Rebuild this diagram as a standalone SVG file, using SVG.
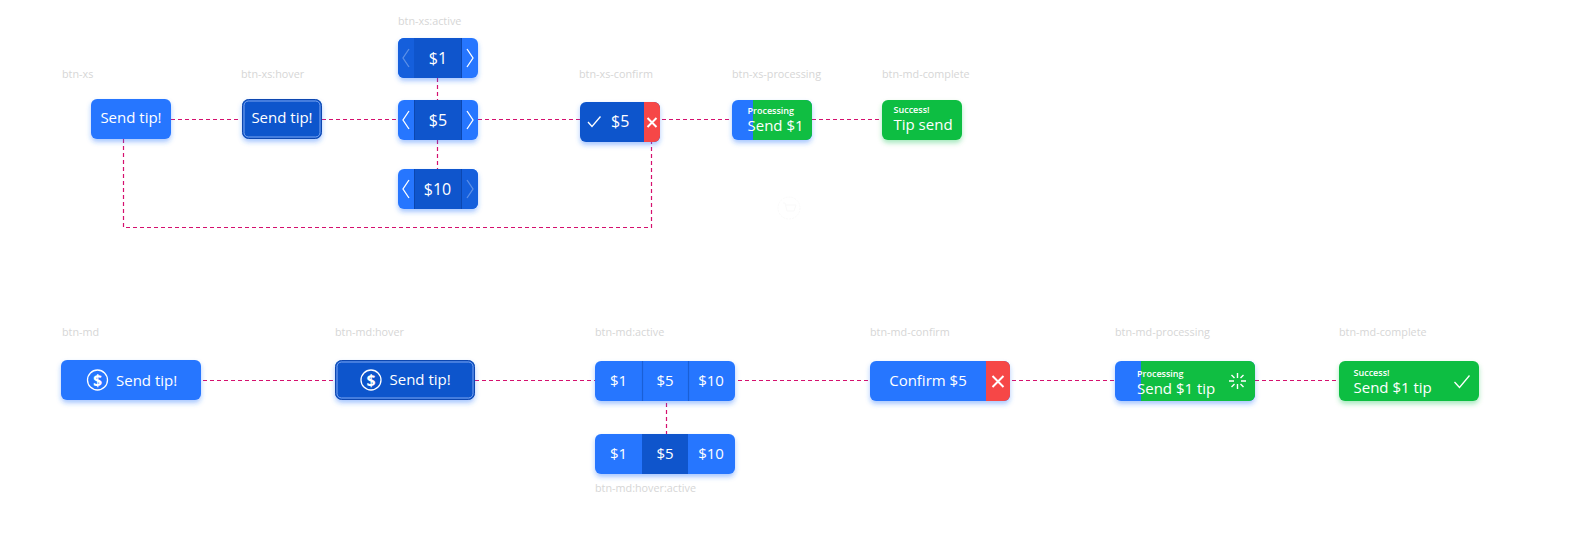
<svg xmlns="http://www.w3.org/2000/svg" width="1591" height="537" viewBox="0 0 1591 537">
<style>
text{font-family:"Open Sans","Noto Sans","Liberation Sans",sans-serif;fill:#fff}
.lbl{font-size:10.800px;fill:#d6d6d6}
.t14{font-size:15px}.t15{font-size:15px}.t16{font-size:16px}.t9{font-size:9px;font-weight:600}
.m{text-anchor:middle}
.blue{fill:#2776ff}.dark{fill:#0f55cc}.mid{fill:#155fdc}.green{fill:#10be42}.red{fill:#f64747}
.sh{filter:url(#s)}.shg{filter:url(#g)}
.con{fill:none;stroke:#d5106e;stroke-width:1.2;stroke-dasharray:4 3}
.ic{fill:none;stroke:#fff;stroke-width:1.3}
.dim{opacity:.3}
.div{stroke:#1a5fd6;stroke-width:1.2}
</style>
<defs>
<filter id="s" x="-20%" y="-30%" width="140%" height="170%"><feDropShadow dx="0" dy="3" stdDeviation="2.5" flood-color="#2776ff" flood-opacity=".4"/></filter>
<filter id="g" x="-20%" y="-30%" width="140%" height="170%"><feDropShadow dx="0" dy="3" stdDeviation="2.5" flood-color="#10be42" flood-opacity=".35"/></filter>
<clipPath id="cx1"><rect x="398" y="38" width="80" height="40" rx="6"/></clipPath>
<clipPath id="cx3"><rect x="398" y="169" width="80" height="40" rx="6"/></clipPath>
<clipPath id="cc"><rect x="580" y="102" width="80" height="40" rx="6"/></clipPath>
<clipPath id="cp"><rect x="732" y="100" width="80" height="40" rx="6"/></clipPath>
<clipPath id="mc"><rect x="870" y="361" width="140" height="40" rx="6"/></clipPath>
<clipPath id="mp"><rect x="1115" y="361" width="140" height="40" rx="6"/></clipPath>
<g id="dollar"><circle r="10" class="ic"/><text y="6" class="t16 m" font-weight="700">$</text></g>
<path id="cl" class="ic" d="M5 -9 L-1 0 L5 9"/>
<path id="cr" class="ic" d="M-5 -9 L1 0 L-5 9"/>
</defs>

<g id="connectors">
<path class="con" d="M171 119.500H240M322 119.500H396M478 119.500H580M662 119.500H732M812 119.500H882"/>
<path class="con" d="M437.500 78V100M437.500 140V169"/>
<path class="con" d="M123.500 139V227.500H651.500V142"/>
<path class="con" d="M203 380.500H333M475 380.500H595M738 380.500H868M1012 380.500H1115M1255 380.500H1339"/>
<path class="con" d="M666.500 403V434"/>
</g>

<g id="btn-xs">
<text class="lbl" x="62" y="78">btn-xs</text>
<rect class="blue sh" x="91" y="99" width="80" height="40" rx="6"/>
<text class="t15 m" x="131" y="123">Send tip!</text>
</g>

<g id="btn-xs-hover">
<text class="lbl" x="241" y="78">btn-xs:hover</text>
<rect class="dark sh" x="242.500" y="99.500" width="79" height="39" rx="6" stroke="#0c47b0"/>
<rect x="244" y="101" width="76" height="36" rx="4.500" fill="none" stroke="#7ea6f0"/>
<text class="t15 m" x="282" y="123">Send tip!</text>
</g>

<g id="btn-xs-active-1">
<text class="lbl" x="398" y="25">btn-xs:active</text>
<rect class="blue sh" x="398" y="38" width="80" height="40" rx="6"/>
<g clip-path="url(#cx1)"><rect class="mid" x="398" y="38" width="16" height="40"/><rect class="dark" x="414" y="38" width="48" height="40"/><rect x="461" y="38" width="1" height="40" fill="#0c47b0"/></g>
<use href="#cl" x="404" y="58" class="dim"/><use href="#cr" x="472" y="58"/>
<text class="t16 m" x="438" y="63.500">$1</text>
</g>

<g id="btn-xs-active-2">
<rect class="blue sh" x="398" y="100" width="80" height="40" rx="6"/>
<rect class="dark" x="414" y="100" width="48" height="40"/><rect x="414" y="100" width="1" height="40" fill="#0c47b0"/><rect x="461" y="100" width="1" height="40" fill="#0c47b0"/>
<use href="#cl" x="404" y="120"/><use href="#cr" x="472" y="120"/>
<text class="t16 m" x="438" y="125.500">$5</text>
</g>

<g id="btn-xs-active-3">
<rect class="blue sh" x="398" y="169" width="80" height="40" rx="6"/>
<g clip-path="url(#cx3)"><rect class="dark" x="414" y="169" width="48" height="40"/><rect class="mid" x="462" y="169" width="16" height="40"/><rect x="414" y="169" width="1" height="40" fill="#0c47b0"/><rect x="461" y="169" width="1" height="40" fill="#0c47b0"/></g>
<use href="#cl" x="404" y="189"/><use href="#cr" x="472" y="189" class="dim"/>
<text class="t16 m" x="437.500" y="194.500">$10</text>
</g>

<g id="btn-xs-confirm">
<text class="lbl" x="579" y="78">btn-xs-confirm</text>
<rect class="dark sh" x="580" y="102" width="80" height="40" rx="6"/>
<rect class="red" x="644" y="102" width="16" height="40" clip-path="url(#cc)"/>
<path class="ic" d="M588 122L592 126.500L600.500 116.500"/>
<path d="M647.500 118L656.500 127M656.500 118L647.500 127" fill="none" stroke="#fff" stroke-width="2"/>
<text class="t16" x="611" y="127">$5</text>
</g>

<g id="btn-xs-processing">
<text class="lbl" x="732" y="78">btn-xs-processing</text>
<rect class="blue sh" x="732" y="100" width="80" height="40" rx="6"/>
<rect class="green" x="753" y="100" width="59" height="40" clip-path="url(#cp)"/>
<text class="t9" x="747.500" y="114">Processing</text>
<text class="t15" x="747.500" y="131">Send $1</text>
</g>

<g id="btn-xs-complete">
<text class="lbl" x="882" y="78">btn-md-complete</text>
<rect class="green shg" x="882" y="100" width="80" height="40" rx="6"/>
<text class="t9" x="893.500" y="113">Success!</text>
<text class="t15" x="893.500" y="130">Tip send</text>
</g>

<g id="cart-mark" opacity=".03">
<circle cx="789" cy="208" r="11" fill="none" stroke="#555" stroke-dasharray="2 1"/>
<path d="M783 203H785L787 211H794L796 205H786" fill="none" stroke="#555"/>
</g>

<g id="btn-md">
<text class="lbl" x="62" y="336">btn-md</text>
<rect class="blue sh" x="61" y="360" width="140" height="40" rx="6"/>
<use href="#dollar" x="97.500" y="380"/>
<text class="t15" x="116" y="386">Send tip!</text>
</g>

<g id="btn-md-hover">
<text class="lbl" x="335" y="336">btn-md:hover</text>
<rect class="dark sh" x="335.500" y="360.500" width="139" height="39" rx="6" stroke="#0c47b0"/>
<rect x="337" y="362" width="136" height="36" rx="4.500" fill="none" stroke="#7ea6f0"/>
<use href="#dollar" x="371" y="380"/>
<text class="t15" x="389.500" y="385">Send tip!</text>
</g>

<g id="btn-md-active">
<text class="lbl" x="595" y="336">btn-md:active</text>
<rect class="blue sh" x="595" y="361" width="140" height="40" rx="6"/>
<path class="div" d="M642.500 361V401M688.500 361V401"/>
<text class="t14 m" x="618.500" y="386">$1</text>
<text class="t14 m" x="665" y="386">$5</text>
<text class="t14 m" x="711" y="386">$10</text>
</g>

<g id="btn-md-hover-active">
<rect class="blue sh" x="595" y="434" width="140" height="40" rx="6"/>
<rect class="dark" x="642" y="434" width="46" height="40"/>
<text class="t14 m" x="618.500" y="459">$1</text>
<text class="t14 m" x="665" y="459">$5</text>
<text class="t14 m" x="711" y="459">$10</text>
<text class="lbl" x="595" y="492">btn-md:hover:active</text>
</g>

<g id="btn-md-confirm">
<text class="lbl" x="870" y="336">btn-md-confirm</text>
<rect class="blue sh" x="870" y="361" width="140" height="40" rx="6"/>
<rect class="red" x="986" y="361" width="24" height="40" clip-path="url(#mc)"/>
<path d="M992.500 376L1003.500 387M1003.500 376L992.500 387" fill="none" stroke="#fff" stroke-width="2"/>
<text class="t15 m" x="928" y="386">Confirm $5</text>
</g>

<g id="btn-md-processing">
<text class="lbl" x="1115" y="336">btn-md-processing</text>
<rect class="blue sh" x="1115" y="361" width="140" height="40" rx="6"/>
<rect class="green" x="1141" y="361" width="114" height="40" clip-path="url(#mp)"/>
<text class="t9" x="1137" y="377">Processing</text>
<text class="t15" x="1137" y="394">Send $1 tip</text>
<path d="M1237.500 373V378M1237.500 384V389M1229 381H1234M1241 381H1246M1231.500 375L1234.500 378M1240.500 384L1243.500 387M1231.500 387L1234.500 384M1240.500 378L1243.500 375" fill="none" stroke="#fff" stroke-width="1.400"/>
</g>

<g id="btn-md-complete">
<text class="lbl" x="1339" y="336">btn-md-complete</text>
<rect class="green shg" x="1339" y="361" width="140" height="40" rx="6"/>
<text class="t9" x="1353.500" y="376">Success!</text>
<text class="t15" x="1353.500" y="393">Send $1 tip</text>
<path class="ic" d="M1454.500 382L1459.500 387.500L1469.500 375.500" stroke-width="1.500"/>
</g>
</svg>
